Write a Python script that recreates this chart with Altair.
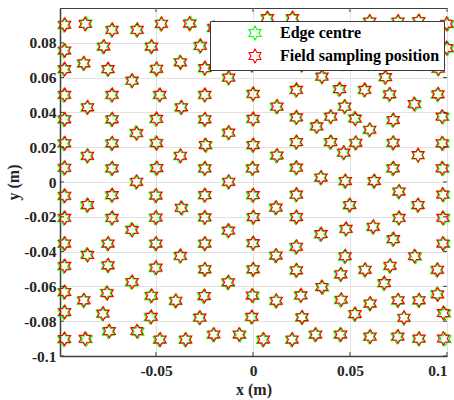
import altair as alt
import pandas as pd

# Field sampling positions (mm)
x_mm = [
    -97, -86.6, -72.5, -59.6, -47.1, -32.8, -20.1, 7.6, 20.5, 60.3, 74.9, 85.6, 99.8,
    -97, -76.8, -52.2, -27.0, 99.8,
    -97, -87.1, -74.6, -49.6, -37.3, -24.7, -0.4, 13.0, 25.3, 46.5, 60.3, 74.9, 85.6, 95.7,
    -62.2, -12.4, 35.7, 68.4,
    -97, -72.5, -47.9, -24.7, 0.2, 22.5, 44.8, 57.7, 70.6, 95.5,
    83.0, -85.2, -36.8, 12.5, 47.4,
    -97, -72.5, -49.6, -24.7, 0.2, 22.5, 40.2, 52.8, 72.4, 97.4,
    -59.9, -12.4, 33.0, 60.3,
    -97, -72.5, -49.6, -24.7, 0.2, 22.5, 40.2, 53.1, 72.4, 97.4,
    -85.2, -37.3, 12.5, 46.9, 85.1,
    -97, -72.5, -49.5, -24.7, -0.1, 22.5, 72.4, 97.4,
    35.2, -59.9, -12.4, 47.7, 62.6,
    -97, -72.5, -49.9, -24.7, 0.2, 22.5, 75.4, 97.7,
    -85.2, -37.1, 12.0, 50.0, 85.2,
    -97, -72.5, -49.9, -24.7, 0.3, 22.5, 75.4, 97.8,
    -62.2, -12.5, 35.2, 48.1, 62.1, 72.5,
    -97, -74.6, -49.9, -24.7, 0.2, 22.5, 97.8,
    -85.2, -37.3, 12.0, 47.6, 83.2,
    -97, -74.6, -49.9, -24.7, 0.2, 22.5, 45.4, 57.9, 70.8, 95.2,
    -62.2, -12.6, 35.4, 67.8,
    -97, -87.1, -75.1, -52.2, -39.7, -25.0, -0.5, 12.1, 24.8, 45.6, 60.5, 74.9, 85.7, 95.3,
    -97, -77.2, -52.4, -27.3, -0.5, 25.4, 52.7, 77.9, 98.1,
    -74.0, -59.9, -20.1, -7.2, 32.4, 45.3, 60.5, 74.8,
    -97.1, -86.6, -47.8, -34.6, 5.5, 20.3, 85.7, 98.1,
]
y_mm = [
    90.4, 90.8, 87.5, 87.5, 91.0, 91.0, 88.7, 94.2, 94.2, 92.3, 92.3, 92.6, 91.0,
    75.6, 77.9, 77.9, 78.3, 77.0,
    64.9, 68.3, 64.9, 65.1, 68.7, 65.5, 67.4, 70.2, 67.4, 68.3, 68.3, 68.3, 68.3, 65.2,
    58.3, 60.0, 60.6, 60.3,
    50.1, 50.1, 50.1, 50.1, 50.7, 53.0, 53.4, 53.0, 50.5, 50.5,
    44.9, 43.0, 43.0, 43.4, 43.4,
    36.1, 36.1, 36.3, 36.1, 36.3, 37.2, 37.6, 36.3, 35.7, 37.6,
    28.0, 28.4, 32.0, 30.1,
    22.3, 22.3, 22.3, 21.3, 21.3, 23.0, 23.0, 22.6, 22.6, 22.3,
    15.1, 15.1, 15.3, 16.9, 15.5,
    8.2, 7.9, 8.1, 7.9, 7.9, 8.3, 7.9, 7.9,
    2.6, 0.2, 0.2, 0.6, 0.6,
    -7.9, -7.5, -7.7, -7.5, -7.5, -7.2, -5.4, -7.2,
    -13.2, -14.8, -14.7, -13.2, -13.2,
    -20.6, -20.6, -20.4, -20.3, -20.1, -20.1, -20.6, -20.6,
    -27.6, -27.9, -29.9, -26.9, -25.7, -32.8,
    -35.3, -35.3, -35.3, -35.3, -35.1, -37.2, -35.3,
    -42.0, -42.4, -42.2, -42.6, -42.6,
    -48.2, -47.8, -49.2, -50.1, -50.1, -50.7, -53.0, -50.4, -48.1, -50.4,
    -57.4, -57.6, -60.3, -58.1,
    -63.2, -67.9, -63.9, -65.3, -68.2, -65.5, -65.2, -68.2, -65.1, -67.6, -69.8, -67.9, -67.9, -64.6,
    -74.7, -75.6, -77.5, -77.9, -77.5, -77.7, -75.8, -78.0, -75.3,
    -85.7, -85.7, -87.6, -87.6, -87.6, -87.6, -88.8, -88.8,
    -90.2, -90.1, -90.5, -90.5, -90.5, -90.5, -90.0, -90.0,
]
# Edge centres: shift of each green marker from its red one (mm)
green_dx_mm = [
    -0.5, 0.6, -0.5, -0.5, -0.4, 0.6, -0.5, -0.5, -0.5, -0.5, -0.5, -0.5, 0.6,
    -0.6, -0.6, -0.5, -0.6, 0.6,
    -0.6, -0.5, -0.5, -0.5, -0.5, -0.5, -0.5, -0.5, -0.5, -0.5, -0.5, -0.5, -0.5, -0.5,
    -0.5, -0.5, -0.5, -0.5,
    -0.6, -0.6, -0.6, -0.5, -0.5, -0.5, -0.6, -0.5, -0.6, -0.6,
    0.6, -0.4, -0.5, -0.6, -0.5,
    -0.6, -0.6, -0.6, -0.5, -0.5, -0.5, -0.5, -0.6, -0.5, 0.6,
    -0.6, -0.5, -0.6, -0.5,
    -0.6, -0.6, -0.6, 0.6, -0.5, -0.5, -0.6, -0.5, -0.5, 0.6,
    -0.5, -0.5, -0.6, -0.5, 0.0,
    -0.6, -0.6, -0.6, -0.5, -0.5, -0.6, -0.6, 0.6,
    -0.5, -0.5, -0.5, -0.5, -0.5,
    -0.6, -0.6, -0.6, -0.5, -0.6, -0.5, -0.5, 0.6,
    -0.6, 0.6, -0.6, -0.6, -0.5,
    -0.6, -0.6, -0.6, -0.5, -0.5, -0.5, -0.5, 0.6,
    -0.6, -0.6, -0.6, -0.5, -0.5, -0.6,
    -0.6, -0.5, -0.5, -0.5, -0.5, -0.6, 0.6,
    -0.6, -0.5, -0.6, -0.5, 0.6,
    -0.6, -0.5, -0.6, -0.5, -0.5, -0.5, -0.5, -0.5, -0.5, -0.6,
    -0.6, -0.6, 0.6, -0.6,
    -0.6, -0.5, -0.6, -0.6, -0.5, -0.6, 0.6, -0.5, -0.5, -0.6, -0.5, -0.5, -0.5, -0.6,
    -0.6, -0.5, -0.6, -0.5, -0.5, -0.5, -0.5, -0.3, 0.8,
    -0.6, 0.6, -0.6, 0.6, -0.6, -0.6, -0.6, -0.6,
    -0.5, 0.7, -0.6, -0.5, -0.6, -0.5, -0.5, 0.9,
]
green_dy_mm = [
    -0.3, 0.3, -0.3, -0.3, -0.3, 0.3, -0.3, -0.3, -0.3, -0.3, -0.3, -0.3, -0.3,
    -0.3, -0.3, -0.3, -0.3, -0.3,
    -0.3, -0.3, -0.3, -0.3, 0.3, -0.3, -0.3, -0.3, -0.3, -0.3, -0.3, -0.3, -0.3, -0.3,
    -0.3, -0.3, -0.3, -0.3,
    -0.3, -0.3, -0.3, -0.3, -0.3, -0.3, -0.3, -0.3, -0.3, -0.3,
    -0.3, -0.3, -0.3, -0.3, -0.3,
    -0.3, -0.3, -0.3, -0.3, -0.3, -0.3, -0.3, 0.3, -0.3, -0.3,
    0.3, -0.3, -0.3, -0.3,
    -0.3, -0.3, 0.3, -0.3, -0.3, -0.3, -0.3, -0.3, -0.3, -0.3,
    -0.3, -0.3, -0.3, -0.3, -0.3,
    -0.3, -0.3, -0.3, -0.3, -0.3, -0.3, -0.3, -0.3,
    -0.3, -0.3, -0.3, -0.3, -0.3,
    -0.3, -0.3, -0.3, -0.3, -0.3, -0.3, -0.3, -0.3,
    -0.3, -0.3, -0.3, -0.3, -0.3,
    -0.3, -0.3, -0.3, -0.3, -0.3, -0.3, -0.3, -0.3,
    0.3, -0.3, -0.3, -0.3, -0.3, -0.3,
    -0.3, -0.3, -0.3, -0.3, -0.3, -0.3, -0.3,
    0.3, -0.3, -0.3, -0.3, -0.3,
    -0.3, -0.3, -0.3, -0.3, -0.3, -0.3, -0.3, -0.3, -0.3, -0.3,
    -0.3, -0.3, -0.3, -0.3,
    -0.3, -0.3, 0.3, -0.3, -0.3, -0.3, -0.3, -0.3, -0.3, -0.3, -0.3, -0.3, -0.3, 0.3,
    -0.3, -0.3, -0.3, -0.3, -0.3, -0.3, -0.3, -0.3, -0.3,
    -0.3, -0.3, -0.3, -0.3, -0.3, -0.3, -0.3, -0.3,
    -0.3, -0.3, -0.3, -0.3, -0.3, -0.3, -0.3, -0.3,
]
assert len(x_mm) == len(y_mm) == len(green_dx_mm) == len(green_dy_mm), (
    len(x_mm), len(y_mm), len(green_dx_mm), len(green_dy_mm))

series = ["Edge centre", "Field sampling position"]
colors = ["#00ff00", "#ff0000"]
x_ticks = [-0.05, 0, 0.05, 0.1]
y_ticks = [-0.1, -0.08, -0.06, -0.04, -0.02, 0, 0.02, 0.04, 0.06, 0.08]

rows = []
for xv, yv, dx, dy in zip(x_mm, y_mm, green_dx_mm, green_dy_mm):
    rows.append({"x": (xv + dx) / 1000, "y": (yv + dy) / 1000, "series": series[0]})
for xv, yv in zip(x_mm, y_mm):
    rows.append({"x": xv / 1000, "y": yv / 1000, "series": series[1]})
df = pd.DataFrame(rows)

STAR = ("M0,-1L0.2887,-0.5L0.866,-0.5L0.5774,0L0.866,0.5L0.2887,0.5L0,1"
        "L-0.2887,0.5L-0.866,0.5L-0.5774,0L-0.866,-0.5L-0.2887,-0.5Z")
FONT = "Liberation Serif"
W, H = 387, 348
MSIZE = 190

xs = alt.Scale(domain=[-0.0995, 0.1], nice=False, zero=False)
ys = alt.Scale(domain=[-0.1, 0.1], nice=False, zero=False)
lab = "replace(format(datum.value, '.2~f'), '\u2212', '-')"
x_axis = alt.Axis(values=x_ticks, labelExpr=lab, labelFlush=True,
                  labelOverlap=False, labelPadding=7, titlePadding=3)
y_axis = alt.Axis(values=y_ticks, labelExpr=lab, labelFlush=False,
                  labelOverlap=False, labelPadding=4, titlePadding=2)
X = lambda f: alt.X(f, scale=xs, title="x (m)", axis=x_axis)
Y = lambda f: alt.Y(f, scale=ys, title="y (m)", axis=y_axis)

points = alt.Chart(df).mark_point(
    shape=STAR, size=MSIZE, filled=False, strokeWidth=1.1, opacity=1
).encode(
    x=X("x:Q"),
    y=Y("y:Q"),
    color=alt.Color("series:N", scale=alt.Scale(domain=series, range=colors),
                    legend=alt.Legend(
                        title=None, orient="none", legendX=150, legendY=13,
                        direction="vertical", fillColor="white", strokeColor="#3a3a3a",
                        padding=4, symbolOffset=33, labelOffset=17,
                        labelFont=FONT, labelFontWeight="bold", labelFontSize=16,
                        labelColor="black", labelLimit=400, rowPadding=3,
                        symbolSize=MSIZE, symbolStrokeWidth=1.1, symbolType=STAR,
                        symbolFillColor="transparent")),
)

xt = pd.DataFrame({"x": x_ticks})
yt = pd.DataFrame({"y": y_ticks})
tick_col = "#404040"
xtick_b = alt.Chart(xt).mark_rule(color=tick_col, strokeWidth=1).encode(
    x=X("x:Q"), y=alt.value(H), y2=alt.value(H - 4))
xtick_t = alt.Chart(xt).mark_rule(color=tick_col, strokeWidth=1).encode(
    x=X("x:Q"), y=alt.value(0), y2=alt.value(4))
ytick_l = alt.Chart(yt).mark_rule(color=tick_col, strokeWidth=1).encode(
    y=Y("y:Q"), x=alt.value(0), x2=alt.value(4))
ytick_r = alt.Chart(yt).mark_rule(color=tick_col, strokeWidth=1).encode(
    y=Y("y:Q"), x=alt.value(W), x2=alt.value(W - 4))

chart = alt.layer(points, xtick_b, xtick_t, ytick_l, ytick_r).properties(
    width=W, height=H,
    padding={"left": 60, "top": 8, "right": 7, "bottom": 44},
    autosize=alt.AutoSizeParams(type="none"),
).configure_view(
    stroke="#404040", strokeWidth=1
).configure_axis(
    labelFont=FONT, labelFontWeight="bold", labelFontSize=15.5, labelColor="#262626",
    titleFont=FONT, titleFontWeight="bold", titleFontSize=16, titleColor="#262626",
    grid=True, gridColor="#e2e2e2", gridWidth=1,
    domainColor="#404040", domainWidth=1.5, ticks=False,
)

chart.save("out.html", embed_options={"renderer": "svg", "actions": False})
